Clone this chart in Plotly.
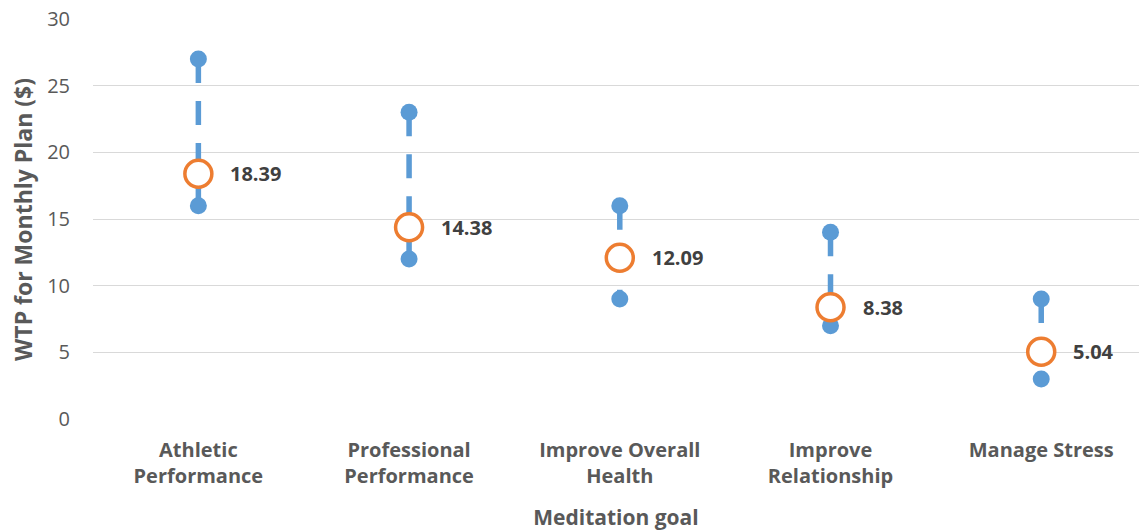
import plotly.graph_objects as go

# Willingness to pay for a monthly meditation plan, by meditation goal
goals = ["Athletic<br>Performance", "Professional<br>Performance", "Improve Overall<br>Health",
         "Improve<br>Relationship", "Manage Stress"]
wtp_high = [27, 23, 16, 14, 9]
wtp_low = [16, 12, 9, 7, 3]
wtp_mean = [18.39, 14.38, 12.09, 8.38, 5.04]
y_ticks = [0, 5, 10, 15, 20, 25, 30]

BLUE = "#5B9BD5"
ORANGE = "#ED7D31"
FONT = "Open Sans"

fig = go.Figure()

# dashed range line from high to low for each goal
for g, hi, lo in zip(goals, wtp_high, wtp_low):
    fig.add_trace(go.Scatter(
        x=[g, g], y=[hi, lo], mode="lines",
        line=dict(color=BLUE, width=5.5, dash="24px,18px"),
        hoverinfo="skip", showlegend=False,
    ))

# high / low end points
fig.add_trace(go.Scatter(
    x=goals + goals, y=wtp_high + wtp_low, mode="markers",
    marker=dict(color=BLUE, size=17, line=dict(width=0)),
    showlegend=False, name="Range",
))

# mean marker
fig.add_trace(go.Scatter(
    x=goals, y=wtp_mean, mode="markers",
    marker=dict(color="white", size=27, line=dict(color=ORANGE, width=3.5)),
    showlegend=False, name="Mean",
))

for g, m in zip(goals, wtp_mean):
    fig.add_annotation(
        x=g, y=m, text=f"<b>{m:.2f}</b>", showarrow=False,
        xanchor="left", yanchor="middle", xshift=30,
        font=dict(family=FONT, size=20, color="#404040"),
    )

# vertical axis title, placed close to the page edge
fig.add_annotation(
    xref="paper", yref="paper", x=-0.067, y=0.5, textangle=-90,
    xanchor="center", yanchor="middle", showarrow=False,
    text="<b>WTP for Monthly Plan ($)</b>",
    font=dict(family=FONT, size=23, color="#595959"),
)

fig.update_layout(
    width=1139, height=532,
    margin=dict(l=93, r=0, t=19, b=113),
    paper_bgcolor="white", plot_bgcolor="white",
    font=dict(family=FONT, color="#595959"),
    showlegend=False,
)

fig.update_xaxes(
    type="category", categoryorder="array", categoryarray=goals,
    range=[-0.5, 4.464], showgrid=False, zeroline=False, showline=False,
    tickfont=dict(family=FONT, size=20, color="#595959", weight="bold"),
    ticks="outside", ticklen=13, tickcolor="rgba(0,0,0,0)",
    title=dict(text="<b>Meditation goal</b>", font=dict(family=FONT, size=21, color="#595959"),
               standoff=22),
)

fig.update_yaxes(
    range=[0, 30], tickvals=y_ticks, showgrid=True, gridcolor="#D9D9D9", gridwidth=1.3,
    zeroline=False, showline=False,
    tickfont=dict(family=FONT, size=20, color="#595959"),
    ticklabelstandoff=22,
)

fig.write_html("out.html")
